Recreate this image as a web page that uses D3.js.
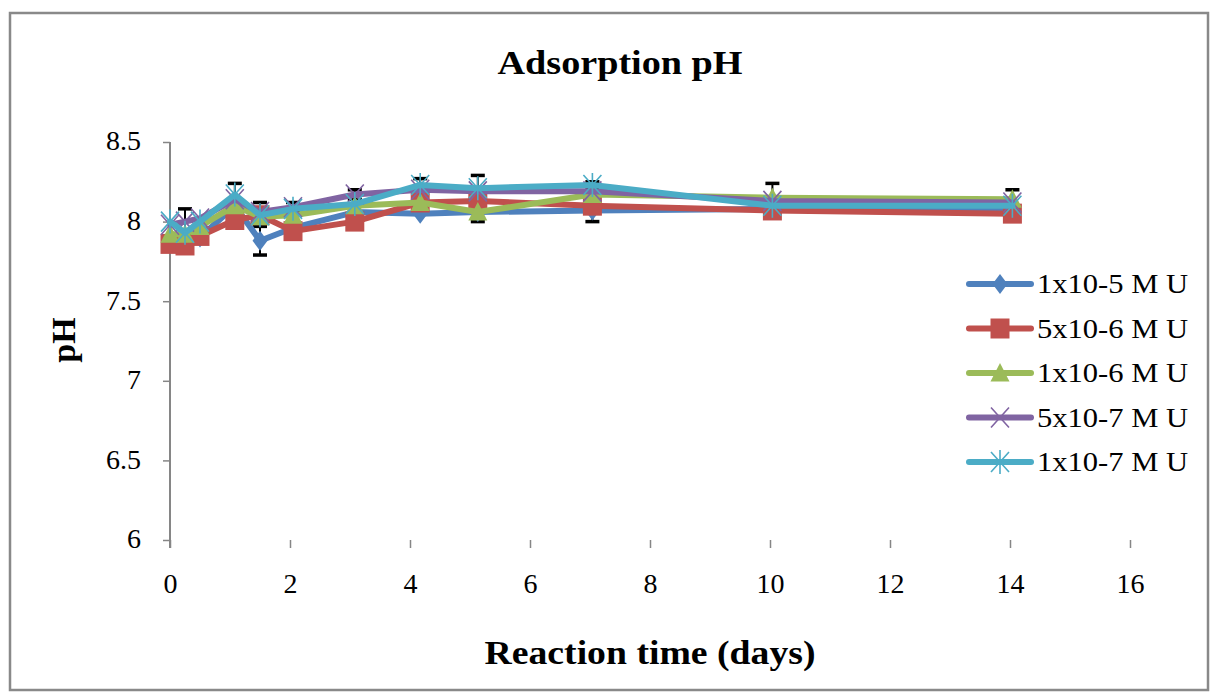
<!DOCTYPE html>
<html>
<head>
<meta charset="utf-8">
<script src="https://cdn.jsdelivr.net/npm/d3@7"></script>
<style>
  html, body { margin: 0; padding: 0; background: #fff; }
  svg { display: block; }
  text { font-family: "Liberation Serif", "Times New Roman", serif; fill: #000; }
</style>
</head>
<body>
<svg id="chart" width="1217" height="694"></svg>
<script>
// Sampling times (days) and measured pH for each uranium concentration
const days = [0, 0.25, 0.5, 1.08, 1.5, 2.05, 3.08, 4.17, 5.13, 7.04, 10.04, 14.04];
const seriesNames = ["1x10-5 M U", "5x10-6 M U", "1x10-6 M U", "5x10-7 M U", "1x10-7 M U"];
const pH_1e5 = [7.87, 7.86, 7.90, 8.10, 7.88, 7.96, 8.06, 8.05, 8.06, 8.07, 8.08, 8.08];
const pH_5e6 = [7.86, 7.85, 7.91, 8.01, 8.04, 7.94, 8.00, 8.12, 8.13, 8.10, 8.07, 8.05];
const pH_1e6 = [7.92, 7.92, 7.97, 8.10, 8.03, 8.04, 8.10, 8.12, 8.06, 8.17, 8.15, 8.14];
const pH_5e7 = [7.98, 8.00, 8.02, 8.14, 8.06, 8.09, 8.17, 8.20, 8.19, 8.19, 8.13, 8.12];
const pH_1e7 = [8.00, 7.93, 8.00, 8.17, 8.04, 8.08, 8.11, 8.23, 8.21, 8.23, 8.10, 8.10];
// Standard deviations (error bars)
const sd_1e5 = [0, 0, 0, 0, 0.09, 0, 0, 0, 0.06, 0.07, 0, 0];
const sd_5e6 = [0, 0, 0, 0, 0, 0, 0, 0, 0, 0, 0, 0];
const sd_1e6 = [0, 0, 0, 0, 0, 0, 0, 0, 0, 0, 0.09, 0.06];
const sd_5e7 = [0, 0.08, 0, 0, 0.06, 0.03, 0.03, 0, 0, 0, 0, 0];
const sd_1e7 = [0, 0, 0, 0.07, 0, 0, 0, 0.04, 0.08, 0.02, 0, 0];
const xTicks = [0, 2, 4, 6, 8, 10, 12, 14, 16];
const yTicks = [6, 6.5, 7, 7.5, 8, 8.5];

const colors = ["#4F81BD", "#C0504D", "#9BBB59", "#8064A2", "#4BACC6"];
const markers = ["diamond", "square", "triangle", "cross", "star"];
const values = [pH_1e5, pH_5e6, pH_1e6, pH_5e7, pH_1e7];
const sds = [sd_1e5, sd_5e6, sd_1e6, sd_5e7, sd_1e7];

const series = seriesNames.map((name, i) => ({
  name, color: colors[i], marker: markers[i],
  points: days.map((d, j) => ({ x: d, y: values[i][j], sd: sds[i][j] }))
}));

const svg = d3.select("#chart");

// Chart area frame
svg.append("rect")
  .attr("x", 10).attr("y", 13).attr("width", 1198).attr("height", 677)
  .attr("fill", "#fff").attr("stroke", "#898989").attr("stroke-width", 2.5);

const x = d3.scaleLinear().domain([0, 16]).range([170, 1130]);
const y = d3.scaleLinear().domain([6, 8.5]).range([540, 142]);

// Y axis
const yAxis = svg.append("g").attr("transform", "translate(170,0)")
  .call(d3.axisLeft(y).tickValues(yTicks).tickSize(7).tickPadding(22)
    .tickFormat(d3.format("")));
yAxis.select(".domain").remove();
yAxis.selectAll(".tick line").attr("stroke", "#868686").attr("stroke-width", 1.5);
yAxis.selectAll(".tick text").attr("font-size", 28).attr("dy", "0.28em");
svg.append("line")
  .attr("x1", 170).attr("x2", 170).attr("y1", y(8.5)).attr("y2", 548)
  .attr("stroke", "#868686").attr("stroke-width", 2);

// X axis
const xAxis = svg.append("g").attr("transform", "translate(0,540)")
  .call(d3.axisBottom(x).tickValues(xTicks).tickSize(8).tickPadding(25)
    .tickFormat(d3.format("")));
xAxis.select(".domain").remove();
xAxis.selectAll(".tick line").attr("stroke", "#868686").attr("stroke-width", 1.5);
xAxis.selectAll(".tick text").attr("font-size", 28);

// Marker shapes
function markerPath(type) {
  switch (type) {
    case "diamond": return "M0,-10L7.5,0L0,10L-7.5,0Z";
    case "square": return "M-9.5,-10H9.5V10H-9.5Z";
    case "triangle": return "M0,-10L9.5,8.5H-9.5Z";
    case "cross": return "M-9,-10L9,10M9,-10L-9,10";
    case "star": return "M-9,-10L9,10M9,-10L-9,10M0,-12V12";
  }
}
function drawMarker(g, s) {
  const filled = s.marker === "diamond" || s.marker === "square" || s.marker === "triangle";
  g.append("path")
    .attr("d", markerPath(s.marker))
    .attr("fill", filled ? s.color : "none")
    .attr("stroke", s.color)
    .attr("stroke-width", filled ? 0 : 1.6);
}

const plot = svg.append("g");

// Error bars sit underneath the series
series.forEach(s => {
  s.points.filter(p => p.sd > 0).forEach(p => {
    const g = plot.append("g").attr("stroke", "#000").attr("stroke-width", 2);
    g.append("line").attr("x1", x(p.x)).attr("x2", x(p.x))
      .attr("y1", y(p.y - p.sd)).attr("y2", y(p.y + p.sd));
    [p.y - p.sd, p.y + p.sd].forEach(v => {
      g.append("line").attr("x1", x(p.x) - 7).attr("x2", x(p.x) + 7)
        .attr("y1", y(v)).attr("y2", y(v)).attr("stroke-width", 3.5);
    });
  });
});

const line = d3.line().x(p => x(p.x)).y(p => y(p.y));
series.forEach(s => {
  const g = plot.append("g");
  g.append("path").datum(s.points)
    .attr("d", line).attr("fill", "none")
    .attr("stroke", s.color).attr("stroke-width", 6)
    .attr("stroke-linejoin", "round").attr("stroke-linecap", "round");
  s.points.forEach(p => {
    drawMarker(g.append("g").attr("transform", `translate(${x(p.x)},${y(p.y)})`), s);
  });
});

// Legend
const legend = svg.append("g");
series.forEach((s, i) => {
  const ly = 284 + i * 44.5;
  const g = legend.append("g").attr("transform", `translate(0,${ly})`);
  g.append("line").attr("x1", 969).attr("x2", 1031).attr("y1", 0).attr("y2", 0)
    .attr("stroke", s.color).attr("stroke-width", 6).attr("stroke-linecap", "round");
  drawMarker(g.append("g").attr("transform", "translate(1000,0)"), s);
  g.append("text").attr("x", 1037).attr("y", 9)
    .attr("font-size", 27).attr("textLength", 151).attr("lengthAdjust", "spacingAndGlyphs")
    .text(s.name);
});

// Titles
svg.append("text").attr("x", 620).attr("y", 74).attr("text-anchor", "middle")
  .attr("font-size", 34).attr("font-weight", "bold")
  .attr("textLength", 245).attr("lengthAdjust", "spacingAndGlyphs")
  .text("Adsorption pH");
svg.append("text").attr("x", 650).attr("y", 664).attr("text-anchor", "middle")
  .attr("font-size", 34).attr("font-weight", "bold")
  .attr("textLength", 331).attr("lengthAdjust", "spacingAndGlyphs")
  .text("Reaction time (days)");
svg.append("text").attr("transform", "translate(75,340) rotate(-90)")
  .attr("text-anchor", "middle")
  .attr("font-size", 34).attr("font-weight", "bold")
  .text("pH");
</script>
</body>
</html>
